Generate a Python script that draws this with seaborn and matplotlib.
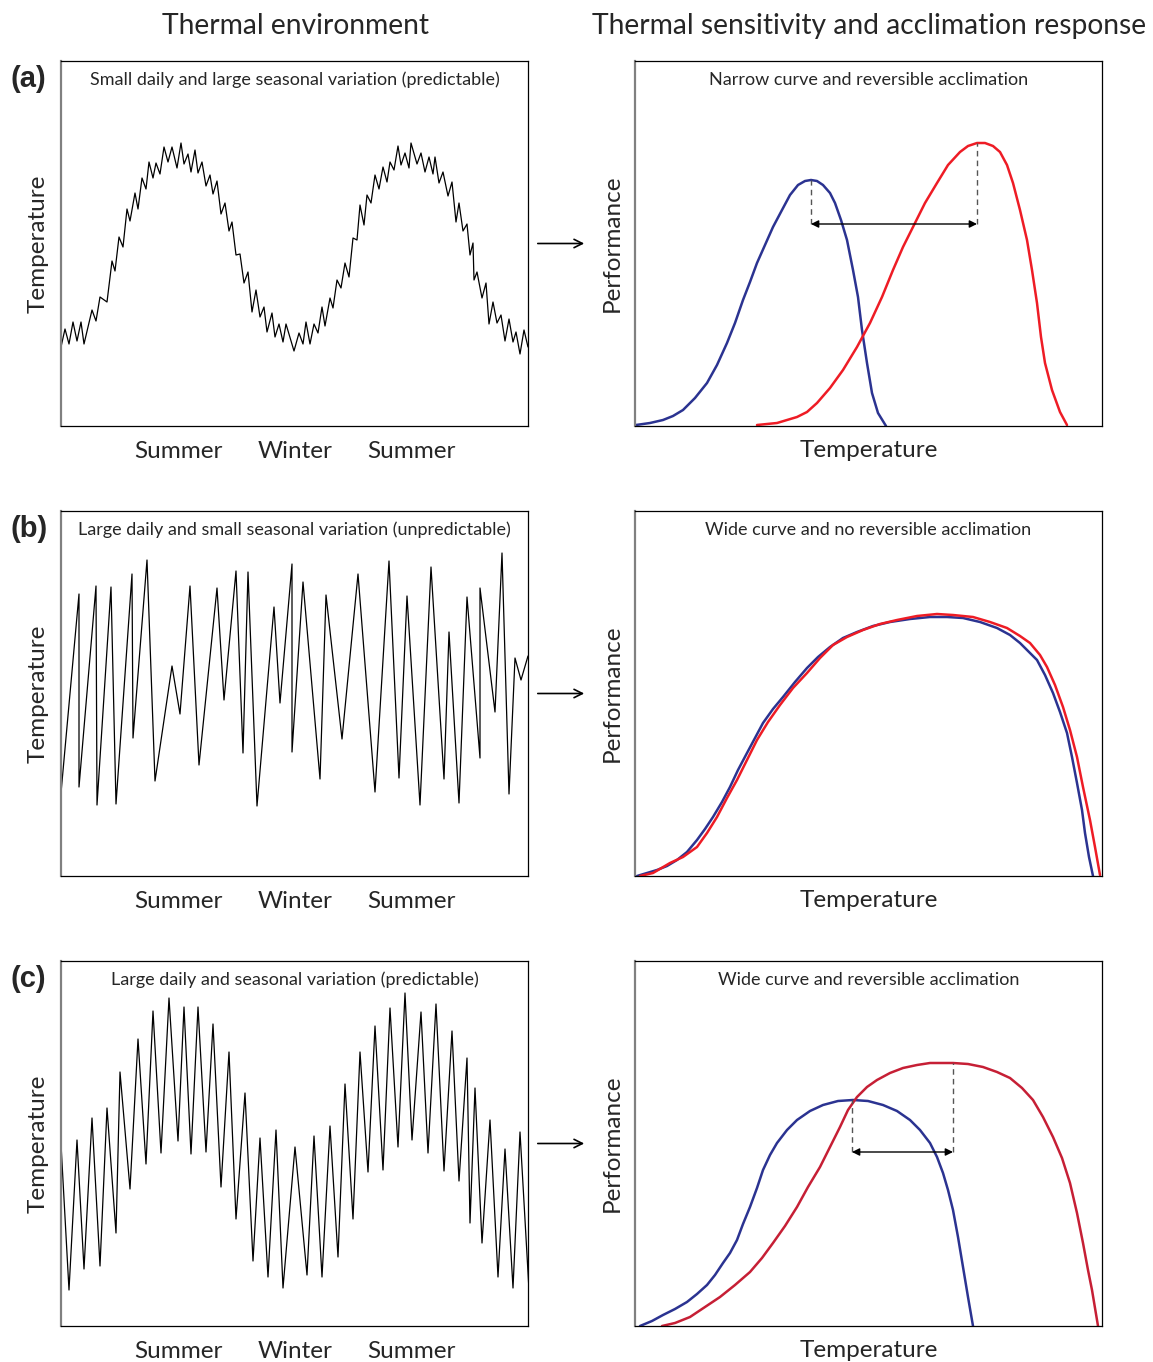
"""
Thermal environment vs. thermal sensitivity / acclimation response
(three scenarios a-c, conceptual figure)
"""
import numpy as np
import pandas as pd
import matplotlib.pyplot as plt
from matplotlib.patches import FancyArrowPatch
import seaborn as sns

sns.set_style("white")
plt.rcParams["font.family"] = ["Lato", "DejaVu Sans"]

# ------------------------------------------------------------------
# Thermal environment time series (day index, temperature in arbitrary units)
# ------------------------------------------------------------------
env_a_day = [0, 4, 8, 12, 16, 20, 23, 31, 35, 39, 46, 51, 54, 58, 62, 66, 69, 74, 77, 81,
             85, 88, 92, 95, 99, 103, 107, 111, 116, 120, 123, 127, 130, 134, 137, 141, 145,
             149, 152, 156, 160, 164, 168, 171, 175, 179, 183, 187, 191, 195, 199, 203, 206,
             211, 214, 218, 222, 225, 233, 238, 242, 245, 249, 253, 257, 261, 264, 269, 272,
             276, 280, 284, 288, 292, 296, 299, 303, 306, 310, 314, 318, 322, 326, 329, 333,
             337, 340, 344, 348, 350, 356, 360, 364, 368, 372, 374, 378, 382, 387, 391, 395,
             398, 402, 406, 409, 412, 413, 416, 421, 425, 428, 432, 436, 440, 444, 448, 452,
             455, 459, 463, 467]
env_a_temp = [79, 97, 82, 104, 85, 104, 82, 116, 105, 129, 124, 165, 155, 189, 179, 217, 205,
              233, 217, 248, 237, 264, 248, 263, 252, 279, 264, 279, 258, 283, 262, 272, 254,
              276, 253, 264, 240, 251, 232, 245, 212, 223, 195, 204, 171, 172, 143, 154, 114,
              136, 109, 119, 94, 113, 89, 102, 84, 102, 75, 93, 82, 104, 82, 102, 93, 119, 100,
              128, 118, 146, 138, 163, 149, 188, 186, 221, 201, 231, 223, 251, 237, 259, 244,
              264, 256, 280, 261, 273, 258, 283, 262, 273, 254, 269, 252, 269, 243, 254, 230,
              244, 204, 223, 195, 202, 171, 183, 146, 154, 128, 143, 102, 124, 103, 111, 85,
              107, 84, 94, 72, 96, 79]

env_b_day = [0, 18, 18, 35, 36, 50, 55, 71, 72, 86, 94, 111, 119, 129, 138, 156, 163, 175,
             182, 187, 196, 213, 219, 231, 231, 242, 259, 265, 281, 297, 314, 328, 338, 346,
             359, 370, 383, 388, 398, 406, 419, 419, 434, 441, 448, 454, 460, 467]
env_b_temp = [83, 282, 89, 290, 71, 289, 72, 302, 138, 316, 95, 210, 162, 290, 111, 288, 176,
              305, 123, 304, 70, 269, 173, 312, 124, 294, 97, 281, 137, 302, 84, 315, 98, 280,
              71, 309, 97, 244, 73, 279, 118, 288, 164, 323, 82, 218, 196, 220]

env_c_day = [0, 8, 16, 23, 31, 39, 46, 55, 59, 69, 77, 85, 92, 100, 108, 117, 123, 130, 137,
             145, 152, 160, 168, 175, 184, 192, 199, 207, 215, 222, 234, 246, 253, 261, 269,
             277, 284, 292, 299, 307, 314, 322, 329, 337, 344, 351, 360, 367, 375, 383, 391,
             398, 406, 409, 414, 421, 429, 437, 444, 452, 459, 468]
env_c_temp = [182, 36, 186, 57, 208, 60, 218, 93, 254, 137, 287, 162, 315, 173, 328, 185, 319,
              172, 319, 174, 302, 139, 274, 107, 233, 65, 188, 49, 196, 38, 179, 51, 190, 49,
              200, 69, 242, 107, 274, 154, 300, 156, 318, 179, 333, 186, 314, 173, 322, 155,
              295, 145, 268, 103, 238, 83, 206, 49, 177, 38, 194, 36]

# ------------------------------------------------------------------
# Thermal performance curves (temperature, performance in arbitrary units)
# ------------------------------------------------------------------
perf_a_cold_x = [1, 15, 28, 38, 48, 60, 72, 82, 92, 100, 108, 115, 122, 130, 138, 147, 155,
                 163, 170, 176, 182, 188, 195, 200, 206, 212, 218, 223, 227, 232, 237, 243, 251]
perf_a_cold_y = [1, 3, 6, 10, 16, 28, 43, 61, 83, 103, 126, 144, 163, 181, 199, 216, 231, 241,
                 245, 246, 245, 241, 233, 223, 206, 186, 156, 129, 96, 63, 33, 13, 0]
perf_a_warm_x = [122, 142, 162, 172, 182, 195, 208, 222, 235, 247, 258, 268, 278, 290, 302,
                 313, 325, 333, 342, 350, 358, 365, 372, 378, 385, 392, 397, 402, 406, 410,
                 417, 425, 432]
perf_a_warm_y = [1, 3, 9, 14, 23, 38, 56, 79, 103, 129, 156, 179, 199, 223, 243, 261, 274,
                 280, 283, 283, 280, 274, 261, 243, 216, 186, 156, 123, 89, 63, 36, 14, 1]

perf_b_cold_x = [2, 12, 22, 32, 42, 52, 62, 70, 78, 87, 95, 103, 112, 120, 128, 138, 148, 160,
                 172, 183, 195, 208, 222, 238, 255, 275, 295, 312, 328, 345, 362, 375, 385,
                 395, 402, 410, 418, 425, 432, 437, 442, 447, 450, 454, 458]
perf_b_cold_y = [0, 3, 6, 10, 16, 24, 36, 47, 59, 74, 89, 106, 123, 138, 153, 167, 179, 194,
                 208, 219, 229, 238, 244, 250, 254, 257, 259, 259, 258, 254, 248, 241, 233,
                 223, 216, 201, 183, 164, 143, 119, 93, 66, 43, 19, 0]
perf_b_warm_x = [5, 18, 35, 48, 62, 72, 82, 92, 102, 112, 122, 133, 145, 158, 172, 185, 198,
                 212, 228, 245, 262, 282, 302, 318, 338, 355, 372, 385, 395, 405, 412, 420,
                 428, 435, 442, 448, 455, 460, 465]
perf_b_warm_y = [0, 3, 13, 19, 29, 43, 59, 78, 96, 116, 136, 154, 171, 188, 203, 218, 231,
                 239, 246, 252, 256, 260, 262, 261, 259, 254, 248, 240, 233, 221, 209, 191,
                 169, 146, 119, 89, 56, 29, 1]

perf_c_cold_x = [5, 17, 28, 40, 52, 62, 72, 80, 88, 95, 102, 108, 115, 122, 128, 135, 142,
                 152, 162, 175, 188, 203, 218, 233, 248, 262, 275, 285, 295, 302, 308, 313,
                 318, 323, 328, 333, 338]
perf_c_cold_y = [0, 5, 11, 17, 24, 32, 41, 51, 63, 73, 86, 102, 119, 138, 156, 171, 183, 196,
                 206, 215, 221, 225, 226, 225, 221, 215, 206, 196, 183, 169, 153, 136, 116, 89,
                 59, 29, 0]
perf_c_warm_x = [27, 40, 55, 70, 85, 100, 115, 127, 138, 150, 162, 173, 185, 195, 205, 213,
                 222, 232, 242, 255, 268, 282, 295, 307, 318, 333, 348, 362, 375, 387, 398,
                 408, 418, 427, 435, 442, 448, 453, 457, 460, 463]
perf_c_warm_y = [0, 3, 9, 19, 29, 41, 54, 68, 83, 100, 119, 139, 159, 179, 199, 216, 229, 239,
                 246, 253, 258, 261, 263, 263, 263, 262, 259, 254, 248, 238, 226, 209, 189,
                 168, 143, 113, 83, 56, 36, 18, 0]

# acclimation shift: (cold optimum, warm optimum, arrow level) per panel
shift_a = {"cold": (176, 246), "warm": (342, 283), "level": 202}
shift_c = {"cold": (217, 226), "warm": (318, 263), "level": 174}

season_ticks = [117, 234, 350]
season_labels = ["Summer", "Winter", "Summer"]

env_titles = [
    "Small daily and large seasonal variation (predictable)",
    "Large daily and small seasonal variation (unpredictable)",
    "Large daily and seasonal variation (predictable)",
]
perf_titles = [
    "Narrow curve and reversible acclimation",
    "Wide curve and no reversible acclimation",
    "Wide curve and reversible acclimation",
]
panel_tags = ["(a)", "(b)", "(c)"]

BLUE = "#2b3391"
RED = "#ee1c25"
RED_DARK = "#c61f35"

# ------------------------------------------------------------------
# Figure layout
# ------------------------------------------------------------------
W, H = 1153, 1362
fig = plt.figure(figsize=(W / 100, H / 100), dpi=100)

row_tops = [61, 511, 961]
ax_h = 365
ax_w = 467
left_x, right_x = 61, 635

env_sets = [(env_a_day, env_a_temp), (env_b_day, env_b_temp), (env_c_day, env_c_temp)]
perf_sets = [
    (perf_a_cold_x, perf_a_cold_y, perf_a_warm_x, perf_a_warm_y, RED),
    (perf_b_cold_x, perf_b_cold_y, perf_b_warm_x, perf_b_warm_y, RED),
    (perf_c_cold_x, perf_c_cold_y, perf_c_warm_x, perf_c_warm_y, RED_DARK),
]
shifts = [shift_a, None, shift_c]


def style_box(ax):
    ax.set_xlim(0, ax_w)
    ax.set_ylim(0, ax_h)
    for side in ["top", "right", "bottom", "left"]:
        ax.spines[side].set_visible(True)
        ax.spines[side].set_color("black")
        ax.spines[side].set_linewidth(0.9)
    ax.spines["left"].set_color("#808080")
    ax.spines["left"].set_linewidth(1.6)
    ax.set_yticks([])


curve_kw = dict(linewidth=1.8, sort=False, estimator=None,
                solid_joinstyle="round", solid_capstyle="round")

for i in range(3):
    bottom = 1 - (row_tops[i] + ax_h) / H

    # --- thermal environment ---
    ax_env = fig.add_axes([left_x / W, bottom, ax_w / W, ax_h / H])
    day, temp = env_sets[i]
    env_df = pd.DataFrame({"day": day, "temp": temp})
    sns.lineplot(data=env_df, x="day", y="temp", ax=ax_env, color="black",
                 linewidth=0.9, sort=False, estimator=None)
    style_box(ax_env)
    ax_env.set_xticks(season_ticks)
    ax_env.set_xticklabels(season_labels, fontsize=17.5)
    ax_env.tick_params(axis="x", length=0, pad=11)
    ax_env.set_xlabel("")
    ax_env.set_ylabel("Temperature", fontsize=17.5, labelpad=9)
    ax_env.set_title(env_titles[i], fontsize=13, y=1, pad=-17)

    # --- performance curves ---
    ax_perf = fig.add_axes([right_x / W, bottom, ax_w / W, ax_h / H])
    cx, cy, wx, wy, warm_col = perf_sets[i]
    sns.lineplot(x=cx, y=cy, ax=ax_perf, color=BLUE, **curve_kw)
    sns.lineplot(x=wx, y=wy, ax=ax_perf, color=warm_col, **curve_kw)
    style_box(ax_perf)
    ax_perf.set_xticks([])
    ax_perf.set_xlabel("Temperature", fontsize=17.5, labelpad=10)
    ax_perf.set_ylabel("Performance", fontsize=17.5, labelpad=9)
    ax_perf.set_title(perf_titles[i], fontsize=13, y=1, pad=-17)

    sh = shifts[i]
    if sh is not None:
        lvl = sh["level"]
        for key in ["cold", "warm"]:
            px, py = sh[key]
            ax_perf.plot([px, px], [lvl, py], ls=(0, (4, 3)), color="#555555", lw=1)
        ax_perf.annotate("", xy=(sh["warm"][0], lvl), xytext=(sh["cold"][0], lvl),
                         arrowprops=dict(arrowstyle="<|-|>", color="black", lw=1,
                                         mutation_scale=11, shrinkA=0, shrinkB=0))

    # arrow between the two columns
    y_mid = bottom + ax_h / H / 2
    fig.patches.append(FancyArrowPatch((535 / W, y_mid), (587 / W, y_mid),
                                       transform=fig.transFigure, arrowstyle="->",
                                       mutation_scale=15, lw=1.2, color="black"))

    fig.text(10 / W, 1 - (row_tops[i] + 18) / H, panel_tags[i], fontsize=21,
             fontweight="bold", family="Liberation Sans", ha="left", va="center")

fig.text(295 / W, 1 - 26 / H, "Thermal environment", fontsize=20.3, ha="center", va="center")
fig.text(869 / W, 1 - 26 / H, "Thermal sensitivity and acclimation response", fontsize=20.3,
         ha="center", va="center")

plt.savefig("out.png", dpi=100)
plt.close()
